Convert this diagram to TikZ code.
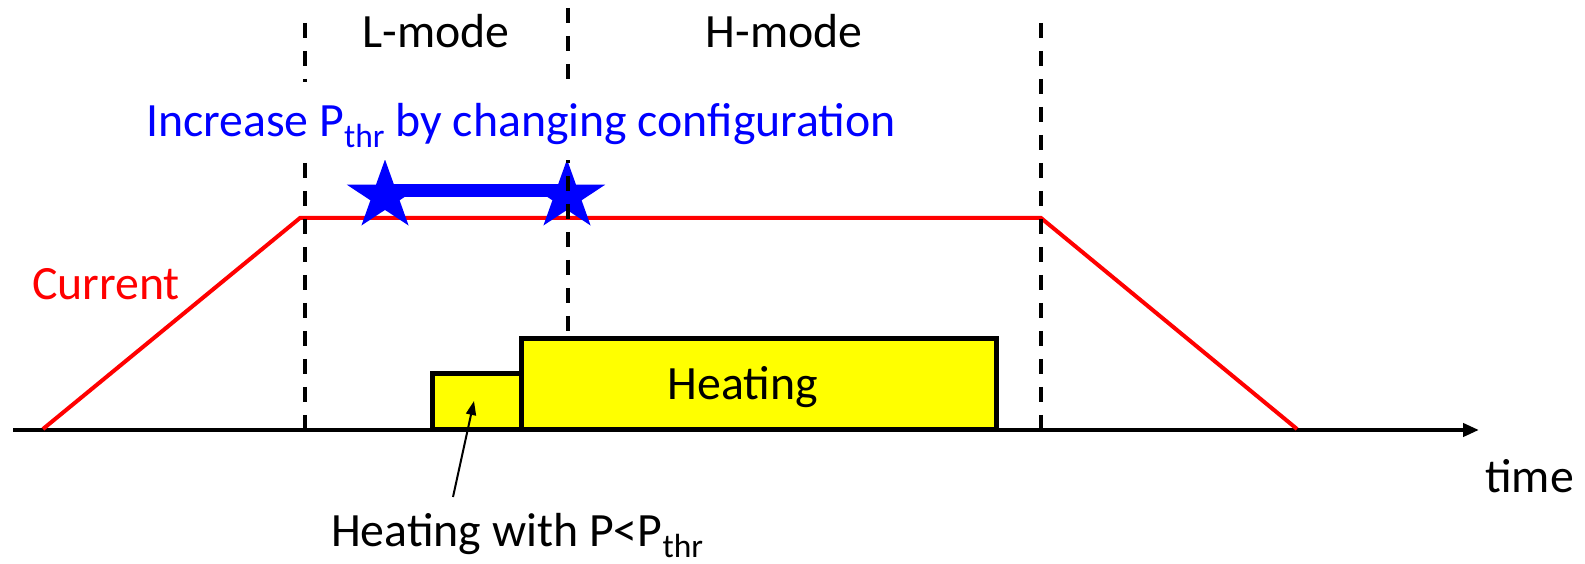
\documentclass[tikz,border=0pt]{standalone}
\usepackage{fontspec}
\setmainfont{Carlito}
\usepackage{xcolor}
\usepackage{tikz}
\usetikzlibrary{arrows.meta,positioning,shapes.geometric}
\definecolor{ModeBlue}{RGB}{0,0,255}
\definecolor{ModeRed}{RGB}{255,0,0}
\definecolor{HeatYellow}{RGB}{255,255,0}
\newcommand{\thrsub}{\raisebox{-11pt}{\fontsize{33.5}{34}\selectfont thr}}
\tikzset{
  plotlabel/.style={font=\fontsize{47.8}{57}\selectfont,inner sep=0pt,anchor=base},
  timeaxis/.style={-{Triangle[length=16pt,width=13pt]},line width=4pt,draw=black},
  currentline/.style={line width=4pt,draw=ModeRed,line join=miter},
  modeline/.style={line width=4pt,draw=black,dash pattern=on 15pt off 13pt},
  heatbox/.style={draw=black,line width=5pt,fill=HeatYellow},
  starmark/.style={star,star points=5,star point ratio=2.618,fill=ModeBlue,inner sep=0pt,minimum size=73pt,xscale=1.1},
  starlink/.style={line width=13pt,draw=ModeBlue},
  notearrow/.style={-{Triangle[length=14pt,width=10pt]},line width=2pt,draw=black}
}

\begin{document}
\begin{tikzpicture}[x=1pt,y=1pt]
\useasboundingbox (0,0) rectangle (1585,564);
\coordinate (t0) at (13,134);
\coordinate (tend) at (1479,134);
\draw[timeaxis] (t0)--(tend);
\coordinate (rampup) at (43,135);
\coordinate (flatL) at (300,346);
\coordinate (flatR) at (1041,346);
\coordinate (rampdn) at (1297,135);
\draw[currentline] (rampup)--(flatL)--(flatR)--(rampdn);
\draw[heatbox] (432,134) rectangle (521,190);
\draw[heatbox] (521,134) rectangle (996,225);
\node[starmark] (star1) at (385,368) {};
\node[starmark] (star2) at (567,368) {};
\draw[starlink] ([yshift=5.5pt]star1.center)--([yshift=5.5pt]star2.center);
\draw[modeline] (305,541)--(305,134);
\draw[modeline] (568,556)--(568,225);
\draw[modeline] (1041,541)--(1041,134);
\node[plotlabel,fill=white,text=ModeBlue,text height=55pt,text depth=23pt,inner xsep=4pt] (cfg) at (521,427) {Increase P\thrsub{} by changing configuration};
\node[plotlabel] (lmode) at (436,516) {L-mode};
\node[plotlabel] (hmode) at (784,516) {H-mode};
\node[plotlabel,text=ModeRed] (current) at (106,264) {Current};
\node[plotlabel] (heat) at (743,164) {Heating};
\node[plotlabel,anchor=base west] (subheat) at (331,17) {Heating with P<P\thrsub};
\node[plotlabel,anchor=base west] (time) at (1485,71) {time};
\coordinate (lowtip) at (474,163);
\draw[notearrow] ([xshift=122pt,yshift=50pt]subheat.base west)--(lowtip);
\end{tikzpicture}
\end{document}
